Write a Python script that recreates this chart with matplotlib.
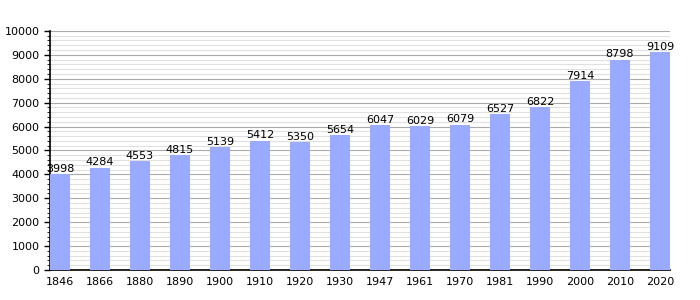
import matplotlib
matplotlib.use("Agg")
import matplotlib.pyplot as plt
from matplotlib.ticker import MultipleLocator

years = ["1846", "1866", "1880", "1890", "1900", "1910", "1920", "1930",
         "1947", "1961", "1970", "1981", "1990", "2000", "2010", "2020"]
population = [3998, 4284, 4553, 4815, 5139, 5412, 5350, 5654,
              6047, 6029, 6079, 6527, 6822, 7914, 8798, 9109]

fig = plt.figure(figsize=(7, 3), dpi=100)
ax = fig.add_axes([0.0714, 0.1, 0.8857, 0.797])

pos = range(len(years))
ax.bar(pos, population, width=0.5, color="#99aaff", zorder=3)

# value labels sit just above each bar
for x, v in zip(pos, population):
    ax.text(x, v + 10, str(v), ha="center", va="bottom", fontsize=8, zorder=4)

ax.set_xlim(-0.25, len(years) - 0.75)
ax.set_ylim(0, 10000)
ax.set_xticks(list(pos))
ax.set_xticklabels(years, fontsize=8)
ax.yaxis.set_major_locator(MultipleLocator(1000))
ax.yaxis.set_minor_locator(MultipleLocator(200))
ax.tick_params(axis="y", labelsize=8, length=4, width=1)
ax.tick_params(axis="y", which="minor", length=2)
ax.tick_params(axis="x", length=0, pad=5)

ax.grid(axis="y", which="major", color="#aaaaaa", linewidth=0.8, zorder=0)
ax.grid(axis="y", which="minor", color="#e0e0e0", linewidth=0.8, zorder=0)

ax.spines["top"].set_visible(False)
ax.spines["right"].set_visible(False)
ax.spines["left"].set_linewidth(1.2)
ax.spines["bottom"].set_linewidth(1.2)

fig.savefig("out.png")
